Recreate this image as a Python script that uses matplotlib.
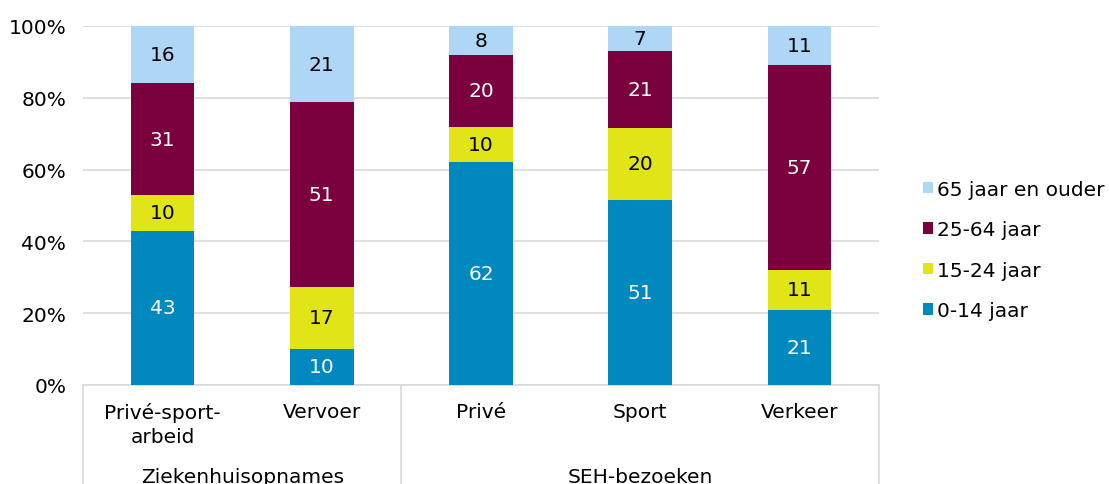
import matplotlib
matplotlib.use("Agg")
import matplotlib.pyplot as plt
import numpy as np
from matplotlib.transforms import blended_transform_factory
from matplotlib.lines import Line2D

categories = ["Privé-sport-\narbeid", "Vervoer", "Privé", "Sport", "Verkeer"]
groups = ["Ziekenhuisopnames", "SEH-bezoeken"]
group_sizes = [2, 3]
series_names = ["0-14 jaar", "15-24 jaar", "25-64 jaar", "65 jaar en ouder"]
v_0_14 = [43, 10, 62, 51, 21]
v_15_24 = [10, 17, 10, 20, 11]
v_25_64 = [31, 51, 20, 21, 57]
v_65plus = [16, 21, 8, 7, 11]
colors = ["#0088BF", "#E1E417", "#7A003E", "#AED6F5"]
label_colors = ["white", "black", "white", "black"]

plt.rcParams['font.family'] = ['DejaVu Sans']
FS = 14.5

fig = plt.figure(figsize=(11.09, 4.85), dpi=100)
ax = fig.add_axes([83/1109, 1-386/485, (879-83)/1109, (386-27)/485])

data = np.array([v_0_14, v_15_24, v_25_64, v_65plus], dtype=float)
totals = data.sum(axis=0)
pct = data / totals * 100
x = np.arange(len(categories))
bottom = np.zeros(len(categories))
handles = []
for i, name in enumerate(series_names):
    bars = ax.bar(x, pct[i], 0.4, bottom=bottom, color=colors[i], label=name, zorder=3)
    handles.append(bars)
    for j in range(len(categories)):
        ax.text(x[j], bottom[j] + pct[i][j] / 2, f"{int(data[i][j])}",
                ha="center", va="center", color=label_colors[i], fontsize=FS, zorder=4)
    bottom += pct[i]

ax.set_xlim(-0.5, len(categories) - 0.5)
ax.set_ylim(0, 100)
ax.set_yticks(np.arange(0, 101, 20))
ax.set_yticklabels([f"{v}%" for v in range(0, 101, 20)], fontsize=FS)
ax.yaxis.grid(True, color="#D9D9D9", linewidth=1.2, zorder=0)
ax.set_axisbelow(True)
for s in ["top", "right", "left"]:
    ax.spines[s].set_visible(False)
ax.spines["bottom"].set_color("#D9D9D9")
ax.spines["bottom"].set_linewidth(1.2)
ax.tick_params(axis="y", length=0, pad=12)
ax.set_xticks(x)
ax.set_xticklabels(categories, fontsize=FS, linespacing=1.32)
ax.tick_params(axis="x", length=0, pad=12.5)

trans = blended_transform_factory(ax.transData, ax.transAxes)
edges = [-0.5]
for g in group_sizes:
    edges.append(edges[-1] + g)
for e in edges:
    ax.add_line(Line2D([e, e], [0, -0.3], transform=trans, color="#D9D9D9",
                       linewidth=1.2, clip_on=False))
for k, gname in enumerate(groups):
    cx = (edges[k] + edges[k + 1]) / 2
    ax.text(cx, -0.255, gname, transform=trans, ha="center", va="center", fontsize=FS)

leg = fig.legend(handles[::-1], series_names[::-1], loc="center left",
                 bbox_to_anchor=(905/1109, 1-251/485), frameon=False, fontsize=FS,
                 handlelength=0.5, handleheight=0.5, handletextpad=0.2, labelspacing=1.07)

fig.savefig("out.png", dpi=100)
